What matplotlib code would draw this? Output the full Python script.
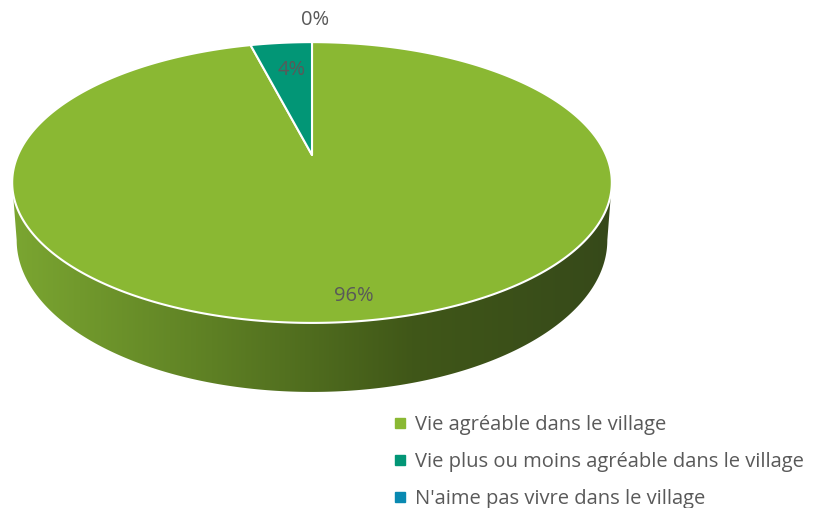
import numpy as np
import matplotlib
matplotlib.use('Agg')
import matplotlib.pyplot as plt
from matplotlib.patches import Polygon
from matplotlib.lines import Line2D
from matplotlib.colors import LinearSegmentedColormap

plt.rcParams['font.family'] = ['Open Sans', 'DejaVu Sans']

# data
categories = ['Vie agréable dans le village',
              'Vie plus ou moins agréable dans le village',
              "N'aime pas vivre dans le village"]
values = [96, 4, 0]
labels = ['96%', '4%', '0%']
colors = ['#8AB833', '#029676', '#0989B1']

# geometry of the "3d" pie (pixel space)
cx, cy = 312, 155      # projected centre of top face
A, B = 294, 135        # radii before perspective
k = 0.196              # perspective strength
depth = 55.5           # thickness of the pie
shrink = 0.985         # bottom face slightly narrower


def project(theta, r=1.0, z=0.0):
    # theta in degrees, clockwise from 12 o'clock
    t = np.radians(theta)
    u = r * np.sin(t)
    v = r * np.cos(t)
    d = 1 + k * v
    x = cx + A * u / d
    y = cy - B * v / d
    if z:
        x = cx + (x - cx) * shrink
        y = y + depth / d
    return x, y


fig = plt.figure(figsize=(8.13, 5.08), dpi=100)
ax = fig.add_axes([0, 0, 1, 1])
ax.set_xlim(0, 813)
ax.set_ylim(508, 0)
ax.axis('off')

total = float(sum(values))
fracs = [v / total for v in values]
starts = np.cumsum([0] + fracs[:-1]) * 360
ends = starts + np.array(fracs) * 360

# side of the pie (front part only), with horizontal shading
tl = np.degrees(np.arccos(-k))
th = np.linspace(tl, 360 - tl, 300)
xt, yt = project(th)
xb, yb = project(th[::-1], z=1)
side = Polygon(np.column_stack([np.r_[xt, xb], np.r_[yt, yb]]),
               closed=True, facecolor='none', edgecolor='none')
ax.add_patch(side)
side_cmap = LinearSegmentedColormap.from_list(
    'side', ['#7BA631', '#5E8024', '#405718', '#36491A'])
grad = np.linspace(0, 1, 256).reshape(1, -1)
im = ax.imshow(grad, cmap=side_cmap, aspect='auto',
               extent=[xt.min() - 2, xt.max() + 2, yb.max() + 2, yt.min() - 2],
               zorder=1)
im.set_clip_path(side)
ax.set_xlim(0, 813)
ax.set_ylim(508, 0)

# top faces
for s, e, c in zip(starts, ends, colors):
    if e - s <= 0:
        continue
    tt = np.linspace(s, e, max(int((e - s) * 2), 4))
    px, py = project(tt)
    pts = np.column_stack([np.r_[cx, px], np.r_[cy, py]])
    ax.add_patch(Polygon(pts, closed=True, facecolor=c, edgecolor='white',
                         linewidth=1.5, joinstyle='round', zorder=2))

# data labels
label_r = [0.87, 0.73, 1.25]
for s, e, lab, r in zip(starts, ends, labels, label_r):
    mid = (s + e) / 2
    lx, ly = project(mid, r)
    ax.text(lx + 3, ly + 1, lab, ha='center', va='center', fontsize=14.5,
            color='#595959', zorder=3)

handles = [Line2D([], [], marker='s', linestyle='none', markersize=6.5,
                  markerfacecolor=c, markeredgecolor=c) for c in colors]
fig.legend(handles, categories, loc='upper left',
           bbox_to_anchor=(386 / 813, 1 - 407 / 508), frameon=False,
           fontsize=14.5, labelcolor='#595959', handlelength=0.6,
           handletextpad=0.45, labelspacing=0.84, borderaxespad=0)

fig.savefig('out.png', dpi=100)
